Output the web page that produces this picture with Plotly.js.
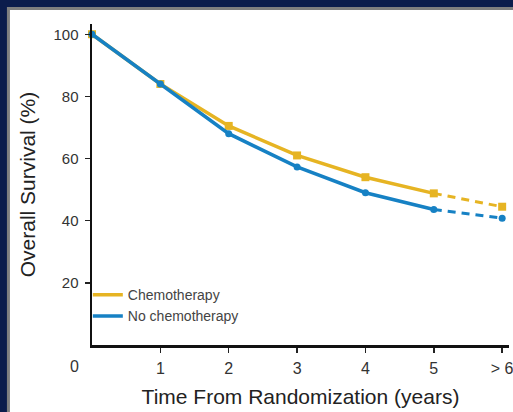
<!DOCTYPE html>
<html>
<head>
<meta charset="utf-8">
<script src="https://cdn.plot.ly/plotly-3.0.1.min.js"></script>
<style>
html,body{margin:0;padding:0;background:#0b1c4c;}
#chart{width:513px;height:412px;}
</style>
</head>
<body>
<div id="chart"></div>
<script>
// Data
const years = [0, 1, 2, 3, 4, 5, 6];
const xTickVals = [1, 2, 3, 4, 5, 6];
const xTickText = ['1', '2', '3', '4', '5', '> 6'];
const yTickVals = [20, 40, 60, 80, 100];
const chemo = [100, 84, 70.5, 61, 54, 48.8, 44.5];
const noChemo = [100, 84, 68, 57.3, 49, 43.6, 40.8];
const seriesNames = ['Chemotherapy', 'No chemotherapy'];
const originLabel = '0';

const yellow = '#e6b423';
const blue = '#1681c4';

const solidEnd = 6; // points 0..5 solid, 5..6 dashed

function seriesTraces(name, ys, color, symbol, msize) {
  return [
    {x: years.slice(0, solidEnd), y: ys.slice(0, solidEnd), name: name, mode: 'lines',
     line: {color: color, width: 3.5}, showlegend: true, hoverinfo: 'skip', cliponaxis: false},
    {x: years.slice(solidEnd - 1), y: ys.slice(solidEnd - 1), mode: 'lines',
     line: {color: color, width: 3, dash: '8px,6px'}, showlegend: false, hoverinfo: 'skip', cliponaxis: false},
    {x: years, y: ys, mode: 'markers', marker: {color: color, symbol: symbol, size: msize},
     showlegend: false, cliponaxis: false}
  ];
}

const data = [].concat(
  seriesTraces(seriesNames[0], chemo, yellow, 'square', 8),
  seriesTraces(seriesNames[1], noChemo, blue, 'circle', 7)
);

const font = 'Liberation Sans, Arial, Helvetica, sans-serif';
const xRange = [0, 6.1];

const layout = {
  width: 513, height: 412,
  margin: {l: 92, r: 4.4, t: 24, b: 66.5, pad: 0},
  paper_bgcolor: '#0b1c4c',
  plot_bgcolor: 'rgba(0,0,0,0)',
  font: {family: font, color: '#333333'},
  showlegend: true,
  legend: {x: -0.01, xanchor: 'left', y: 0.205, yanchor: 'top', bgcolor: 'rgba(0,0,0,0)',
           borderwidth: 0, font: {size: 14, color: '#444444'}, tracegroupgap: 0},
  xaxis: {
    range: xRange, showgrid: false, zeroline: false,
    showline: true, linecolor: '#111111', linewidth: 2.5,
    ticks: 'outside', ticklen: 5, tickwidth: 1.5, tickcolor: '#222222',
    tickvals: xTickVals, ticktext: xTickText, ticklabeloverflow: 'allow',
    tickfont: {size: 16, color: '#333333'}, ticklabelstandoff: 2,
    title: {text: 'Time From Randomization (years)', font: {size: 21, color: '#222222'}, standoff: 14}
  },
  yaxis: {
    range: [0, 103.3], showgrid: false, zeroline: false,
    showline: true, linecolor: '#111111', linewidth: 2.5,
    ticks: 'outside', ticklen: 5, tickwidth: 1.5, tickcolor: '#222222',
    tickvals: yTickVals, tickfont: {size: 15, color: '#333333'}, ticklabelstandoff: 3,
    title: {text: 'Overall Survival (%)', font: {size: 21, color: '#222222'}, standoff: 12}
  },
  shapes: [
    {type: 'rect', xref: 'paper', yref: 'paper', x0: -0.2004, x1: 1.3, y0: -0.4, y1: 1.048,
     fillcolor: '#ffffff', line: {color: '#7f7f7f', width: 3}, layer: 'below'}
  ],
  annotations: [
    {text: originLabel, xref: 'paper', yref: 'paper', x: -0.26 / (xRange[1] - xRange[0]), y: 0,
     xanchor: 'center', yanchor: 'top', yshift: -11,
     showarrow: false, font: {size: 16, color: '#333333', family: font}}
  ]
};

Plotly.newPlot('chart', data, layout, {displayModeBar: false, staticPlot: true});
</script>
</body>
</html>
